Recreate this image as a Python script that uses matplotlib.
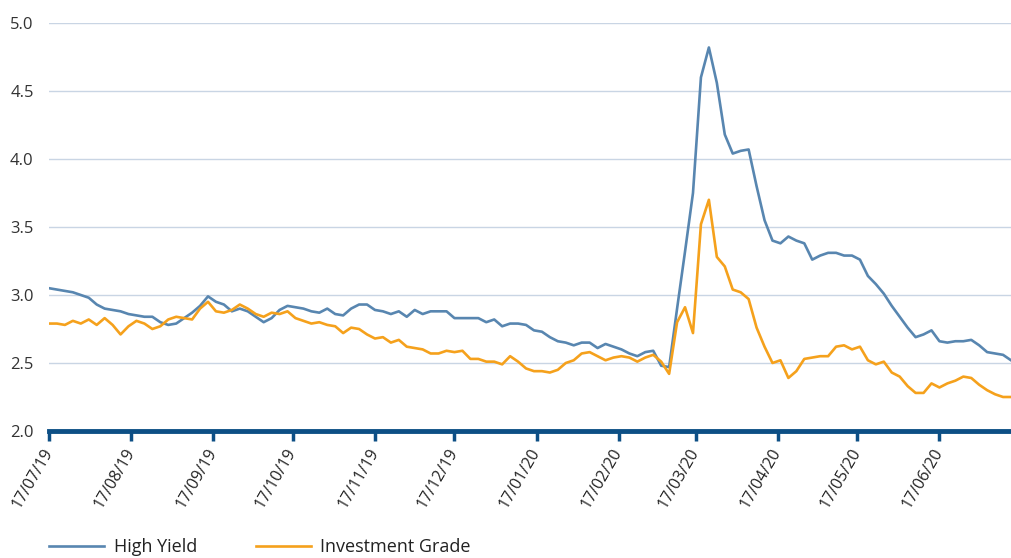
import pandas as pd
import matplotlib
matplotlib.use("Agg")
import matplotlib.pyplot as plt
import matplotlib.dates as mdates

plt.rcParams['font.family'] = ['Open Sans', 'DejaVu Sans']

# spread data, sampled every 3 days from 17/07/19
start_date = "2019-07-17"
step = "3D"

high_yield = [
    3.05, 3.04, 3.03, 3.02, 3.00, 2.98, 2.93, 2.90, 2.89, 2.88,
    2.86, 2.85, 2.84, 2.84, 2.80, 2.78, 2.79, 2.83, 2.87, 2.92,
    2.99, 2.95, 2.93, 2.88, 2.90, 2.88, 2.84, 2.80, 2.83, 2.89,
    2.92, 2.91, 2.90, 2.88, 2.87, 2.90, 2.86, 2.85, 2.90, 2.93,
    2.93, 2.89, 2.88, 2.86, 2.88, 2.84, 2.89, 2.86, 2.88, 2.88,
    2.88, 2.83, 2.83, 2.83, 2.83, 2.80, 2.82, 2.77, 2.79, 2.79,
    2.78, 2.74, 2.73, 2.69, 2.66, 2.65, 2.63, 2.65, 2.65, 2.61,
    2.64, 2.62, 2.60, 2.57, 2.55, 2.58, 2.59, 2.48, 2.47, 2.90,
    3.32, 3.75, 4.60, 4.82, 4.56, 4.18, 4.04, 4.06, 4.07, 3.80,
    3.55, 3.40, 3.38, 3.43, 3.40, 3.38, 3.26, 3.29, 3.31, 3.31,
    3.29, 3.29, 3.26, 3.14, 3.08, 3.01, 2.92, 2.84, 2.76, 2.69,
    2.71, 2.74, 2.66, 2.65, 2.66, 2.66, 2.67, 2.63, 2.58, 2.57,
    2.56, 2.52,
]

investment_grade = [
    2.79, 2.79, 2.78, 2.81, 2.79, 2.82, 2.78, 2.83, 2.78, 2.71,
    2.77, 2.81, 2.79, 2.75, 2.77, 2.82, 2.84, 2.83, 2.82, 2.90,
    2.95, 2.88, 2.87, 2.89, 2.93, 2.90, 2.86, 2.84, 2.87, 2.86,
    2.88, 2.83, 2.81, 2.79, 2.80, 2.78, 2.77, 2.72, 2.76, 2.75,
    2.71, 2.68, 2.69, 2.65, 2.67, 2.62, 2.61, 2.60, 2.57, 2.57,
    2.59, 2.58, 2.59, 2.53, 2.53, 2.51, 2.51, 2.49, 2.55, 2.51,
    2.46, 2.44, 2.44, 2.43, 2.45, 2.50, 2.52, 2.57, 2.58, 2.55,
    2.52, 2.54, 2.55, 2.54, 2.51, 2.54, 2.56, 2.51, 2.42, 2.80,
    2.91, 2.72, 3.52, 3.70, 3.28, 3.21, 3.04, 3.02, 2.97, 2.76,
    2.62, 2.50, 2.52, 2.39, 2.44, 2.53, 2.54, 2.55, 2.55, 2.62,
    2.63, 2.60, 2.62, 2.52, 2.49, 2.51, 2.43, 2.40, 2.33, 2.28,
    2.28, 2.35, 2.32, 2.35, 2.37, 2.40, 2.39, 2.34, 2.30, 2.27,
    2.25, 2.25,
]

dates = pd.date_range(start_date, periods=len(high_yield), freq=step)
tick_dates = pd.date_range("2019-07-01", "2020-06-01", freq="MS") + pd.Timedelta(days=16)
y_ticks = [2.0, 2.5, 3.0, 3.5, 4.0, 4.5, 5.0]

hy_color = "#5886b0"
ig_color = "#f5a11c"
axis_color = "#0d4f85"

fig = plt.figure(figsize=(10.11, 5.58), dpi=100)
ax = fig.add_axes([49 / 1011, 1 - 431 / 558, 1 - 49 / 1011, (431 - 23) / 558])

ax.plot(dates, high_yield, color=hy_color, lw=1.9, label="High Yield")
ax.plot(dates, investment_grade, color=ig_color, lw=1.9, label="Investment Grade")

ax.set_ylim(2.0, 5.0)
ax.set_xlim(pd.Timestamp("2019-07-17"), dates[-1])
ax.set_yticks(y_ticks)
ax.set_yticklabels([f"{v:.1f}" for v in y_ticks])
ax.yaxis.grid(True, color="#c9d5e4", lw=1.0)
ax.set_axisbelow(True)

for side in ["left", "right", "top"]:
    ax.spines[side].set_visible(False)
ax.spines["bottom"].set_color(axis_color)
ax.spines["bottom"].set_linewidth(3.5)
ax.spines["bottom"].set_zorder(5)

ax.set_xticks(tick_dates)
ax.xaxis.set_major_formatter(mdates.DateFormatter("%d/%m/%y"))
ax.tick_params(axis="x", length=7, width=2.5, color=axis_color, labelsize=11.5,
               labelcolor="#222222", pad=6)
ax.tick_params(axis="y", length=0, labelsize=12, labelcolor="#333333", pad=11)
for lbl in ax.get_xticklabels():
    lbl.set_rotation(60)
    lbl.set_ha("right")
    lbl.set_va("center")
    lbl.set_rotation_mode("anchor")
    lbl.set_clip_on(False)

fig.legend(loc="center left", bbox_to_anchor=(0.040, 0.020), ncol=2, frameon=False,
           fontsize=13, handlelength=3.0, handletextpad=0.55, columnspacing=3.3,
           labelcolor="#222222", borderpad=0)

fig.savefig("out.png", dpi=100)
